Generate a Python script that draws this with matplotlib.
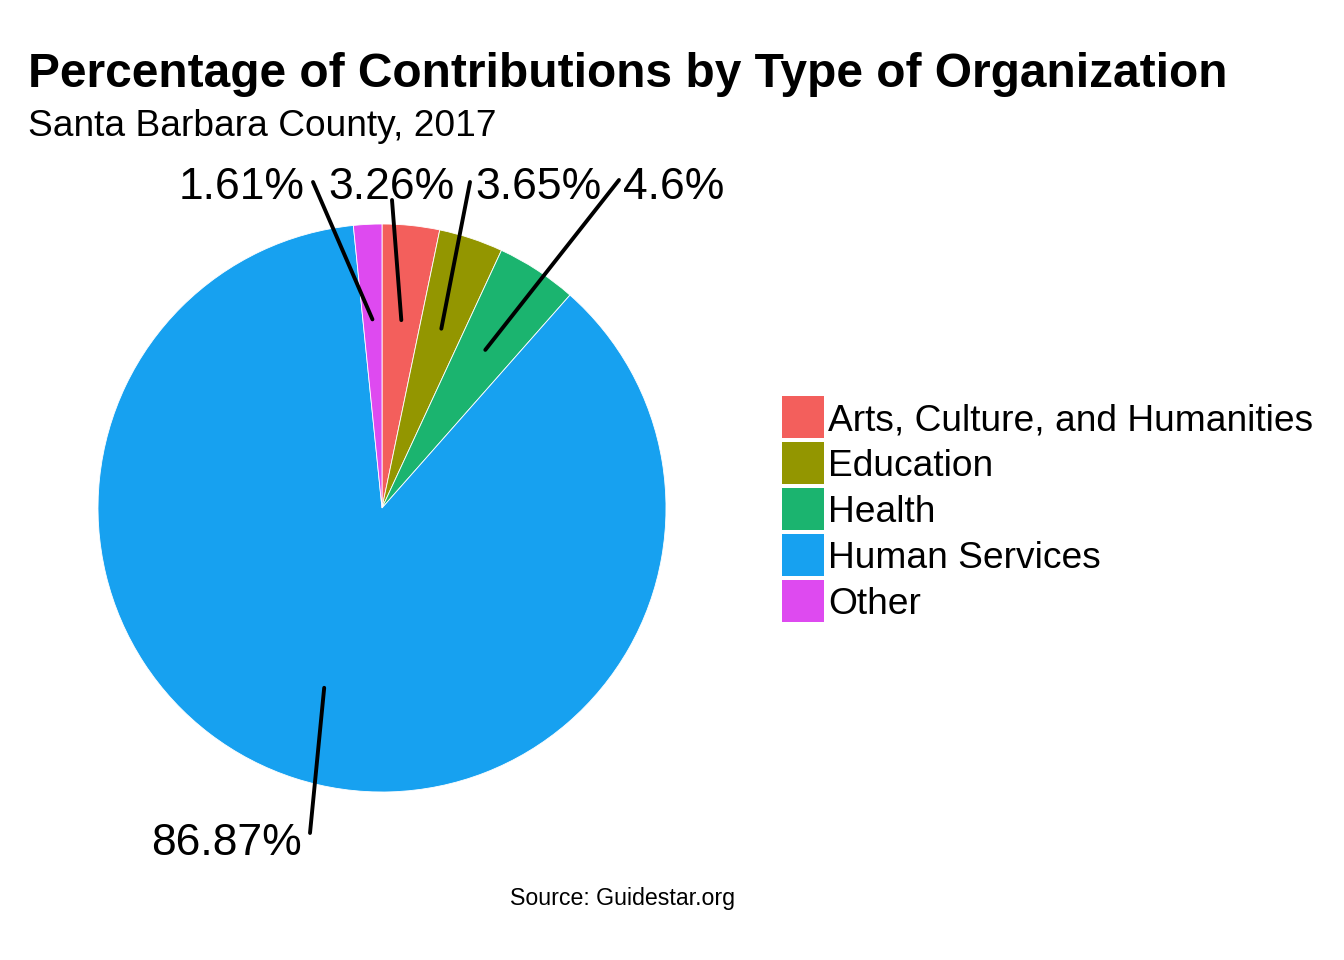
import matplotlib
matplotlib.use("Agg")
import matplotlib.pyplot as plt
from matplotlib.patches import Rectangle, ConnectionPatch
import numpy as np

plt.rcParams['font.family'] = ['Liberation Sans', 'DejaVu Sans']

categories = ["Arts, Culture, and Humanities", "Education", "Health", "Human Services", "Other"]
values = [3.26, 3.65, 4.6, 86.87, 1.61]
labels = ["3.26%", "3.65%", "4.6%", "86.87%", "1.61%"]
colors = ["#F35F5C", "#939600", "#1BB46F", "#17A1F0", "#DE4AF0"]

title = "Percentage of Contributions by Type of Organization"
subtitle = "Santa Barbara County, 2017"
source = "Source: Guidestar.org"

W, H = 1344, 960
fig = plt.figure(figsize=(W / 100, H / 100), dpi=100)


def fx(x):
    return x / W


def fy(y):
    return 1 - y / H


# pie axes: centre (382,508), radius 284 px
cx, cy, R = 382, 508, 284
ax = fig.add_axes([fx(cx - R), fy(cy + R), 2 * R / W, 2 * R / H])
wedges, _ = ax.pie(values, colors=colors, startangle=90, counterclock=False,
                   radius=1, wedgeprops=dict(edgecolor="white", linewidth=0.6))
ax.set_xlim(-1, 1)
ax.set_ylim(-1, 1)
ax.set_aspect("equal")
ax.axis("off")

# label layout (pixel positions of line ends and text anchors)
line_ends = [(392, 200), (470, 182), (619, 180), (310, 833), (313, 182)]
text_pos = [(391, 199, "center"), (475, 199, "left"), (623, 199, "left"),
            (302, 855, "right"), (305, 199, "right")]

cum = np.cumsum([0] + values[:-1])
total = sum(values)
for i, v in enumerate(values):
    mid = (cum[i] + v / 2) / total * 360
    ang = np.deg2rad(90 - mid)
    r = 0.665
    xA, yA = r * np.cos(ang), r * np.sin(ang)
    ex, ey = line_ends[i]
    con = ConnectionPatch(xyA=(xA, yA), coordsA=ax.transData,
                          xyB=(fx(ex), fy(ey)), coordsB=fig.transFigure,
                          color="black", linewidth=2.8)
    fig.add_artist(con)
    tx, ty, ha = text_pos[i]
    fig.text(fx(tx), fy(ty), labels[i], ha=ha, va="baseline", fontsize=32, color="black")

# titles
fig.text(fx(28), fy(87), title, fontsize=34.5, fontweight="bold", ha="left", va="baseline")
fig.text(fx(28), fy(136), subtitle, fontsize=26.7, ha="left", va="baseline")
fig.text(fx(622), fy(905), source, fontsize=16.7, ha="center", va="baseline")

# legend
for i, (cat, col) in enumerate(zip(categories, colors)):
    top = 396 + i * 46
    fig.add_artist(Rectangle((fx(782), fy(top + 42)), 42 / W, 42 / H,
                             transform=fig.transFigure, facecolor=col, edgecolor="none"))
    fig.text(fx(828), fy(top + 34), cat, fontsize=26.7, ha="left", va="baseline")

fig.savefig("out.png", dpi=100, facecolor="white")
